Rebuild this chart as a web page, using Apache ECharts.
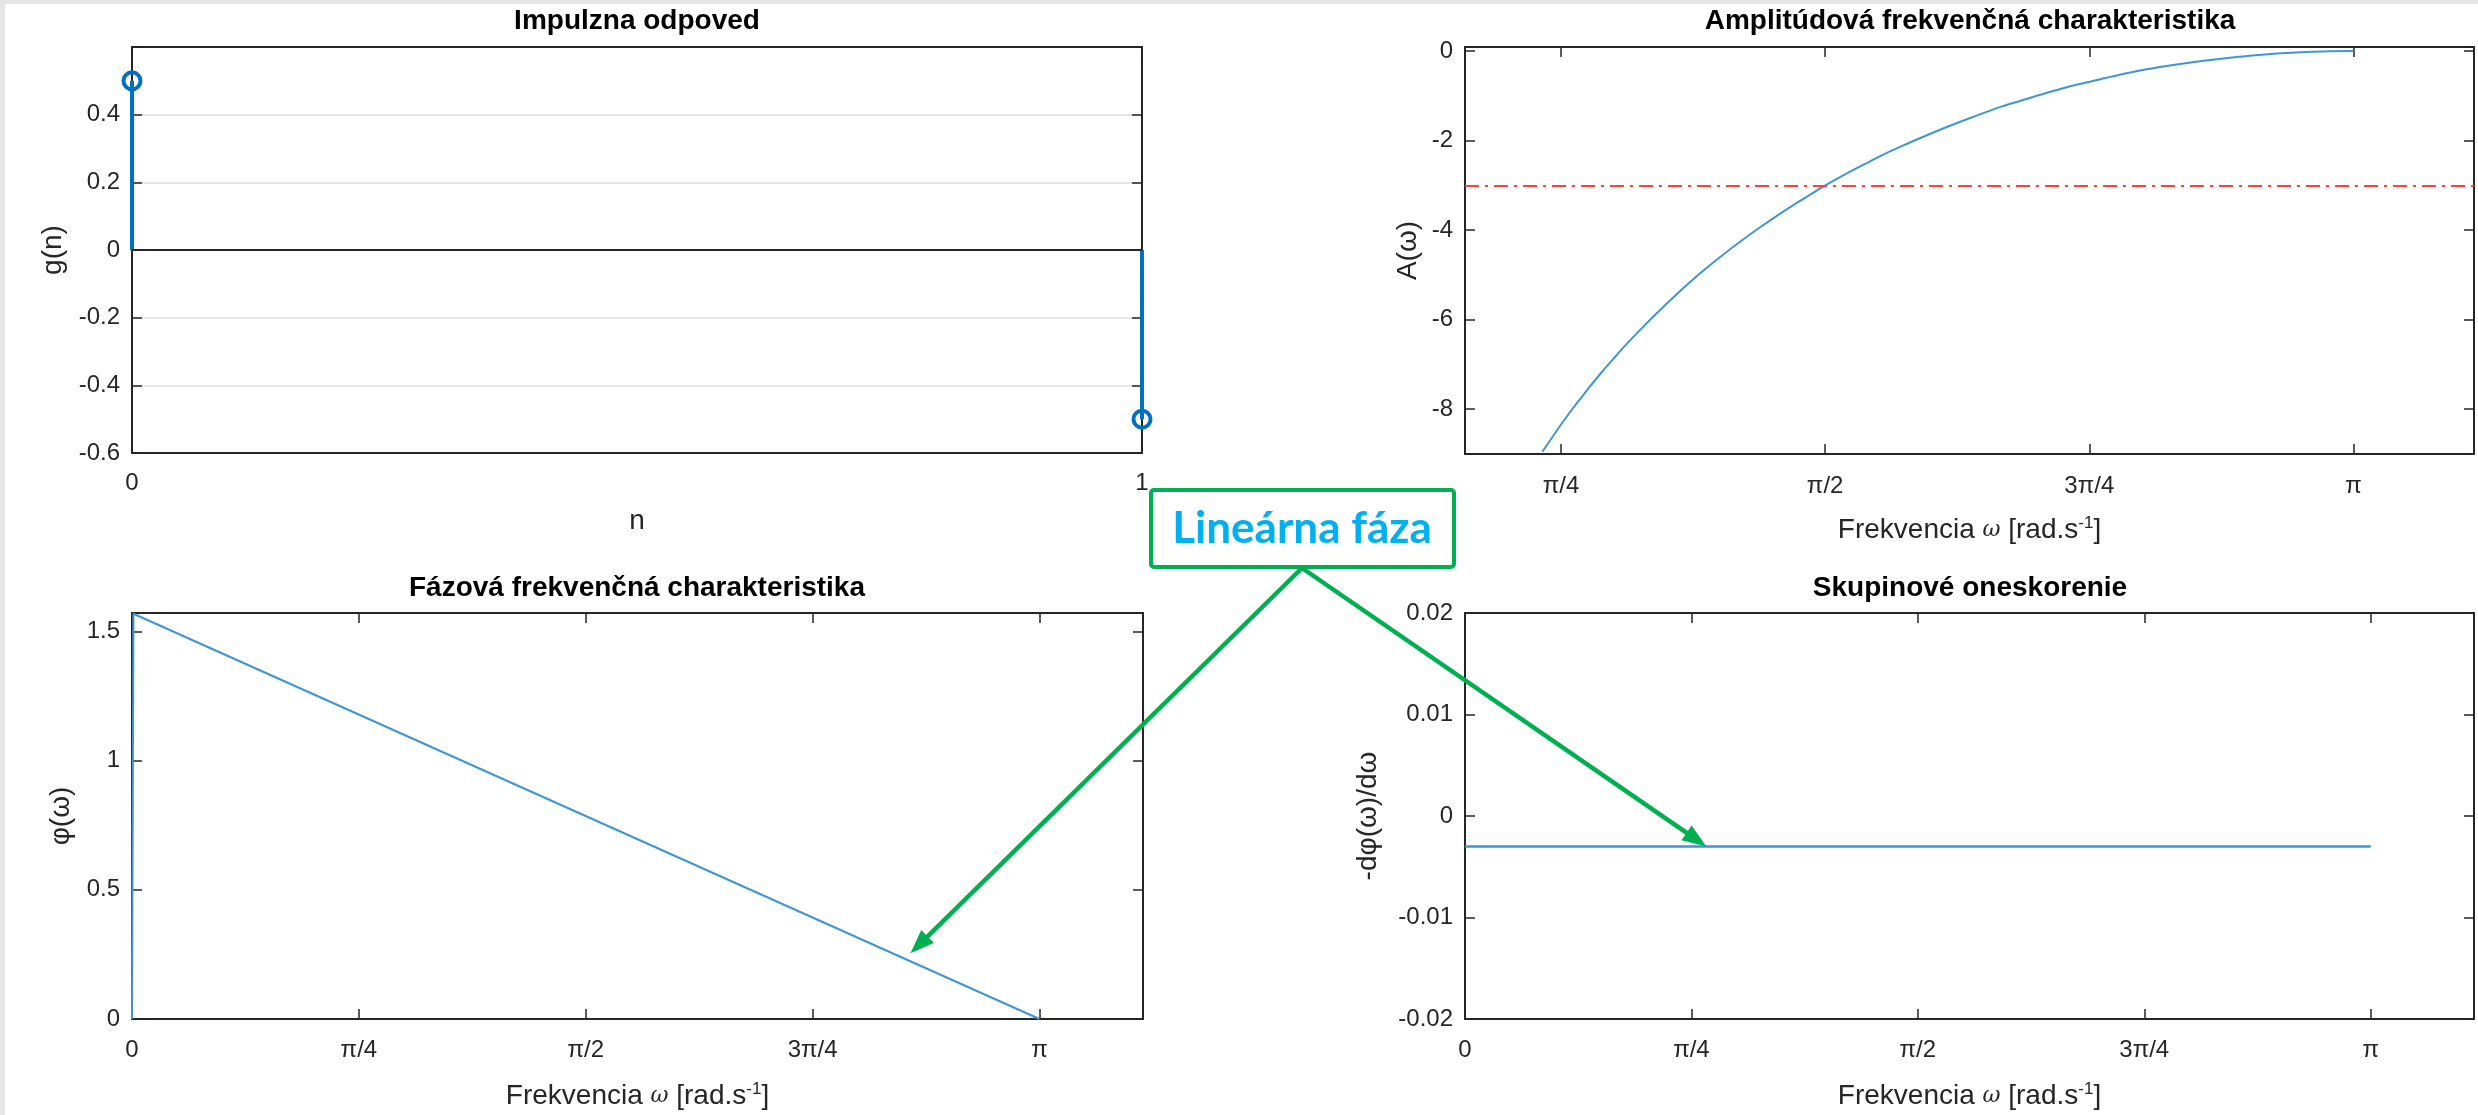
<!DOCTYPE html>
<html><head><meta charset="utf-8">
<script src="https://cdn.jsdelivr.net/npm/echarts@6/dist/echarts.min.js"></script>
<style>html,body{margin:0;padding:0;background:#fff}#c{width:2478px;height:1115px}</style>
</head><body><div id="c"></div>
<script>
const PI = Math.PI;
// Impulse response g(n)
const nValues = [0, 1];
const gValues = [0.5, -0.5];
// Amplitude response A(w) in dB
const ampOmega  = [0.73, 0.76, 0.80, 0.85, 0.90, 0.95, 1.00, 1.10, 1.20, 1.30, 1.40, 1.50, 1.60, 1.70, 1.80, 2.00, 2.20, 2.40, 2.60, 2.80, 3.00, 3.1416];
const ampValues = [-8.95, -8.62, -8.19, -7.70, -7.23, -6.80, -6.39, -5.64, -4.96, -4.36, -3.82, -3.33, -2.88, -2.48, -2.12, -1.50, -1.00, -0.61, -0.32, -0.13, -0.02, 0.0];
const cutoffLevel = -3;
// Phase response
const phaseOmega  = [0, 0.005, 3.1416];
const phaseValues = [0, 1.568, 0];
// Group delay
const delayOmega  = [0, 3.1416];
const delayValues = [-0.003, -0.003];
// Tick labels
const piTickValues = [0, PI / 4, PI / 2, 3 * PI / 4, PI];
const piTickLabels = ['0', 'π/4', 'π/2', '3π/4', 'π'];
const annotationText = 'Lineárna fáza';

const FONT = 'Liberation Sans';
const AX = '#262626';
const chart = echarts.init(document.getElementById('c'), null, {renderer: 'canvas'});

function piLabel(v) {
  for (let i = 0; i < piTickValues.length; i++) if (Math.abs(v - piTickValues[i]) < 1e-6) return piTickLabels[i];
  return '';
}
function baseAxis(type, grid, pos, min, max, showLabel, margin) {
  return {
    type: 'value', gridIndex: grid, position: pos, min: min, max: max,
    axisLine: {show: true, onZero: false, lineStyle: {color: AX, width: 2}},
    axisTick: {show: true, inside: true, length: 10, lineStyle: {color: AX, width: 1.5}},
    splitLine: {show: false},
    axisLabel: {show: showLabel, color: AX, fontSize: 24, fontFamily: FONT, margin: margin},
    nameTextStyle: {color: AX, fontSize: 28, fontFamily: FONT}
  };
}
function piX(grid, pos, min, max, show, margin, withName, gap) {
  const vals = piTickValues.filter(v => v >= min - 1e-9 && v <= max + 1e-9);
  const a = baseAxis('x', grid, pos, min, max, show, margin);
  a.axisTick.customValues = vals;
  a.axisLabel.customValues = vals;
  a.axisLabel.formatter = piLabel;
  if (withName) {
    a.name = '{t|Frekvencia }{w|ω}{t| [rad.s}{s|-1}{t|]}';
    a.nameLocation = 'middle';
    a.nameGap = gap;
    a.nameTextStyle.rich = {
      t: {fontSize: 28, fontFamily: FONT, color: AX},
      w: {fontSize: 22, fontFamily: 'DejaVu Serif', fontStyle: 'italic', color: AX},
      s: {fontSize: 17, fontFamily: FONT, color: AX, verticalAlign: 'top', padding: [0, 0, 14, 0]}
    };
  }
  return a;
}
function yAx(grid, pos, min, max, interval, show, name, gap, fmt) {
  const a = baseAxis('y', grid, pos, min, max, show, 12);
  if (interval != null) a.interval = interval;
  if (fmt) a.axisLabel.formatter = fmt;
  if (name) { a.name = name; a.nameLocation = 'middle'; a.nameGap = gap; }
  return a;
}

// X axes
const xAxes = [];
const x0 = baseAxis('x', 0, 'bottom', 0, 1, true, 18); x0.interval = 1; x0.name = 'n'; x0.nameLocation = 'middle'; x0.nameGap = 54;
const x1 = baseAxis('x', 0, 'top', 0, 1, false, 8); x1.interval = 1;
xAxes.push(x0, x1);
xAxes.push(piX(1, 'bottom', 0.5, 3.5, true, 20, true, 61), piX(1, 'top', 0.5, 3.5, false, 8, false));
xAxes.push(piX(2, 'bottom', 0, 3.5, true, 19, true, 62), piX(2, 'top', 0, 3.5, false, 8, false));
xAxes.push(piX(3, 'bottom', 0, 3.5, true, 19, true, 62), piX(3, 'top', 0, 3.5, false, 8, false));

// Y axes
const hideMax06 = v => (Math.abs(v - 0.6) < 1e-9 ? '' : String(Math.round(v * 10) / 10));
const evenFmt = v => (Math.abs(v / 2 - Math.round(v / 2)) < 1e-9 ? String(v) : '');
const halfFmt = v => (Math.abs(v * 2 - Math.round(v * 2)) < 1e-9 ? String(v) : '');
const y0 = yAx(0, 'left', -0.6, 0.6, 0.2, true, 'g(n)', 65, hideMax06);
y0.splitLine = {show: true, lineStyle: {color: '#e4e4e4', width: 2}};
const yAxes = [
  y0, yAx(0, 'right', -0.6, 0.6, 0.2, false),
  yAx(1, 'left', -9, 0.09, null, true, 'A(ω)', 43, evenFmt), yAx(1, 'right', -9, 0.09, null, false),
  yAx(2, 'left', 0, PI / 2, 0.5, true, 'φ(ω)', 57, halfFmt), yAx(2, 'right', 0, PI / 2, 0.5, false),
  yAx(3, 'left', -0.02, 0.02, 0.01, true, '-dφ(ω)/dω', 83), yAx(3, 'right', -0.02, 0.02, 0.01, false)
];

const LINE = '#3f95d6';
const titleStyle = {fontFamily: FONT, fontSize: 28, fontWeight: 'bold', color: '#000'};

chart.setOption({
  animation: false,
  backgroundColor: '#fff',
  textStyle: {fontFamily: FONT},
  title: [
    {text: 'Impulzna odpoved', left: 637, top: 7, textAlign: 'center', padding: 0, textStyle: titleStyle},
    {text: 'Amplitúdová frekvenčná charakteristika', left: 1970, top: 7, textAlign: 'center', padding: 0, textStyle: titleStyle},
    {text: 'Fázová frekvenčná charakteristika', left: 637, top: 574, textAlign: 'center', padding: 0, textStyle: titleStyle},
    {text: 'Skupinové oneskorenie', left: 1970, top: 574, textAlign: 'center', padding: 0, textStyle: titleStyle}
  ],
  grid: [
    {left: 132, top: 47, width: 1010, height: 406},
    {left: 1465, top: 47, width: 1009, height: 407},
    {left: 132, top: 613, width: 1011, height: 406},
    {left: 1465, top: 613, width: 1009, height: 406}
  ],
  xAxis: xAxes,
  yAxis: yAxes,
  series: [
    {
      type: 'bar', xAxisIndex: 0, yAxisIndex: 0, barWidth: 4, clip: false,
      itemStyle: {color: '#0072BD'},
      data: nValues.map((n, i) => [n, gValues[i]]),
      markLine: {silent: true, symbol: 'none', label: {show: false}, animation: false,
        lineStyle: {color: AX, width: 2, type: 'solid'}, data: [{yAxis: 0}]},
      z: 3
    },
    {
      type: 'scatter', xAxisIndex: 0, yAxisIndex: 0, clip: false, symbol: 'circle', symbolSize: 17,
      itemStyle: {color: 'rgba(255,255,255,0)', borderColor: '#0072BD', borderWidth: 4, opacity: 1},
      data: nValues.map((n, i) => [n, gValues[i]]), z: 4
    },
    {
      type: 'line', xAxisIndex: 2, yAxisIndex: 2, showSymbol: false, smooth: true,
      lineStyle: {color: LINE, width: 2},
      data: ampOmega.map((w, i) => [w, ampValues[i]]),
      markLine: {silent: true, symbol: 'none', label: {show: false},
        lineStyle: {color: '#ff4040', width: 2, type: [14, 6, 3, 6]}, data: [{yAxis: cutoffLevel}]}
    },
    {
      type: 'line', xAxisIndex: 4, yAxisIndex: 4, showSymbol: false,
      lineStyle: {color: LINE, width: 2},
      data: phaseOmega.map((w, i) => [w, phaseValues[i]])
    },
    {
      type: 'line', xAxisIndex: 6, yAxisIndex: 6, showSymbol: false,
      lineStyle: {color: LINE, width: 2.5},
      data: delayOmega.map((w, i) => [w, delayValues[i]])
    }
  ]
});

// Annotation "Lineárna fáza" with arrows
const GREEN = '#00B050';
const start = [1302, 568];
const tipL = chart.convertToPixel({xAxisIndex: 4, yAxisIndex: 4}, [2.695, 0.254]);
const tipR = chart.convertToPixel({xAxisIndex: 6, yAxisIndex: 6}, [0.837, -0.0030]);
function arrow(p0, p1) {
  const dx = p1[0] - p0[0], dy = p1[1] - p0[1];
  const L = Math.hypot(dx, dy), ux = dx / L, uy = dy / L;
  const hl = 24, hw = 9;
  const base = [p1[0] - ux * hl, p1[1] - uy * hl];
  return [
    {type: 'line', z: 100, shape: {x1: p0[0], y1: p0[1], x2: base[0] + ux * 2, y2: base[1] + uy * 2},
      style: {stroke: GREEN, lineWidth: 4.5}},
    {type: 'polygon', z: 100, shape: {points: [p1, [base[0] - uy * hw, base[1] + ux * hw], [base[0] + uy * hw, base[1] - ux * hw]]},
      style: {fill: GREEN}}
  ];
}
chart.setOption({
  graphic: {elements: [
    {type: 'rect', z: 100, shape: {x: 0, y: 0, width: 2478, height: 4}, style: {fill: '#e5e5e5'}},
    {type: 'rect', z: 100, shape: {x: 0, y: 0, width: 5, height: 1115}, style: {fill: '#e5e5e5'}},
    ...arrow(start, tipL),
    ...arrow(start, tipR),
    {type: 'rect', z: 101, shape: {x: 1151, y: 490, width: 303, height: 77, r: 3},
      style: {fill: '#fff', stroke: GREEN, lineWidth: 4}},
    {type: 'text', z: 102, style: {text: annotationText, x: 1302, y: 529, align: 'center', verticalAlign: 'middle',
      font: 'bold 44px Lato', fill: '#00B0F0'}}
  ]}
});
</script>
</body></html>
